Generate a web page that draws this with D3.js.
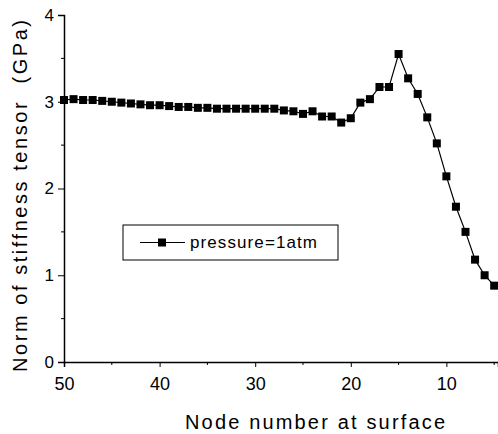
<!DOCTYPE html>
<html>
<head>
<meta charset="utf-8">
<script src="https://cdn.jsdelivr.net/npm/d3@7"></script>
<style>
  body { margin: 0; background: #fff; }
  text { font-family: "Liberation Sans", Arial, sans-serif; fill: #000; }
</style>
</head>
<body>
<div id="chart"></div>
<script>
// node numbers (x) and stiffness norm values (y, GPa)
const nodes = [50, 49, 48, 47, 46, 45, 44, 43, 42, 41, 40, 39, 38, 37, 36, 35, 34, 33, 32, 31, 30,
    29, 28, 27, 26, 25, 24, 23, 22, 21, 20, 19, 18, 17, 16, 15, 14, 13, 12, 11, 10, 9, 8, 7, 6, 5];
const norms = [3.02, 3.03, 3.02, 3.02, 3.01, 3.00, 2.99, 2.98, 2.97, 2.96, 2.96, 2.95, 2.94, 2.94, 2.93, 2.93, 2.92, 2.92, 2.92, 2.92, 2.92,
    2.92, 2.92, 2.90, 2.89, 2.86, 2.89, 2.83, 2.83, 2.76, 2.81, 2.99, 3.03, 3.17, 3.17, 3.55, 3.27, 3.09, 2.82, 2.52, 2.14, 1.79, 1.50, 1.18, 1.00, 0.88];
const xTicks = [50, 40, 30, 20, 10];
const xMinor = [45, 35, 25, 15, 5];
const yTicks = [0, 1, 2, 3, 4];
const yMinor = [0.5, 1.5, 2.5, 3.5];
const seriesName = "pressure=1atm";

const width = 498, height = 434;
const margin = { top: 15, right: 0, bottom: 72, left: 64 };

const svg = d3.select("#chart")
    .append("svg")
    .attr("width", width)
    .attr("height", height);

const x = d3.scaleLinear()
    .domain([50, 4.6])
    .range([margin.left, width - margin.right]);

const y = d3.scaleLinear()
    .domain([0, 4])
    .range([height - margin.bottom, margin.top]);

const y0 = y(0);

// x axis
const gx = svg.append("g")
    .attr("transform", `translate(0,${y0})`)
    .call(d3.axisBottom(x).tickValues(xTicks).tickSize(5).tickPadding(10).tickFormat(d3.format("d")));
gx.selectAll("text").style("font-size", "18px");
gx.selectAll(".minor")
    .data(xMinor)
    .join("line")
    .attr("x1", d => x(d)).attr("x2", d => x(d))
    .attr("y1", 0).attr("y2", 3)
    .attr("stroke", "#000");

// y axis
const gy = svg.append("g")
    .attr("transform", `translate(${margin.left},0)`)
    .call(d3.axisLeft(y).tickValues(yTicks).tickSize(6).tickPadding(4).tickFormat(d3.format("d")));
gy.selectAll("text").style("font-size", "17px");
gy.selectAll(".minor")
    .data(yMinor)
    .join("line")
    .attr("x1", 0).attr("x2", -3)
    .attr("y1", d => y(d)).attr("y2", d => y(d))
    .attr("stroke", "#000");

[gx, gy].forEach(g => {
    g.select(".domain").attr("stroke-width", 1.5);
    g.selectAll("line").attr("stroke", "#000");
});

// axis titles
svg.append("text")
    .attr("x", 315)
    .attr("y", 429)
    .attr("text-anchor", "middle")
    .attr("textLength", 260)
    .attr("lengthAdjust", "spacing")
    .style("font-size", "20px")
    .text("Node number at surface");

svg.append("text")
    .attr("transform", "translate(27,196) rotate(-90)")
    .attr("text-anchor", "middle")
    .attr("textLength", 352)
    .attr("lengthAdjust", "spacing")
    .style("font-size", "20px")
    .style("white-space", "pre")
    .text("Norm of stiffness tensor  (GPa)");

// line and markers
const data = nodes.map((n, i) => ({ node: n, value: norms[i] }));
const ms = 8;

svg.append("path")
    .datum(data)
    .attr("fill", "none")
    .attr("stroke", "#000")
    .attr("stroke-width", 1.2)
    .attr("d", d3.line().x(d => x(d.node)).y(d => y(d.value)));

svg.append("g")
    .selectAll("rect")
    .data(data)
    .join("rect")
    .attr("x", d => x(d.node) - ms / 2)
    .attr("y", d => y(d.value) - ms / 2)
    .attr("width", ms)
    .attr("height", ms)
    .attr("fill", "#000");

// legend
const legend = svg.append("g").attr("transform", "translate(123,225)");
legend.append("rect")
    .attr("width", 215)
    .attr("height", 35)
    .attr("fill", "#fff")
    .attr("stroke", "#000")
    .attr("stroke-width", 1);
legend.append("line")
    .attr("x1", 17).attr("x2", 62)
    .attr("y1", 17.5).attr("y2", 17.5)
    .attr("stroke", "#000");
legend.append("rect")
    .attr("x", 39 - ms / 2).attr("y", 17.5 - ms / 2)
    .attr("width", ms).attr("height", ms)
    .attr("fill", "#000");
legend.append("text")
    .attr("x", 67)
    .attr("y", 17.5)
    .attr("dy", "0.35em")
    .attr("textLength", 127)
    .attr("lengthAdjust", "spacing")
    .style("font-size", "17px")
    .text(seriesName);
</script>
</body>
</html>
